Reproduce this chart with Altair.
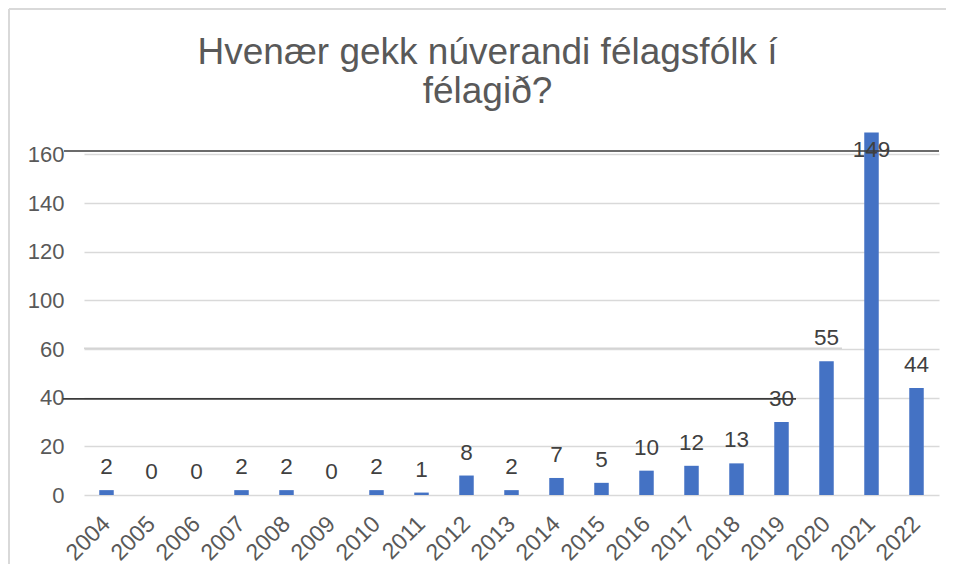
import json
import altair as alt
import pandas as pd

FONT = "Liberation Sans"

# ---- data ----
years = ["2004", "2005", "2006", "2007", "2008", "2009", "2010", "2011", "2012",
         "2013", "2014", "2015", "2016", "2017", "2018", "2019", "2020", "2021", "2022"]
counts = [2, 0, 0, 2, 2, 0, 2, 1, 8, 2, 7, 5, 10, 12, 13, 30, 55, 149, 44]

# y-axis gridline values and the (odd) labels printed next to them
y_ticks = [0, 20, 40, 60, 80, 100, 120, 140]
y_tick_labels = ["0", "20", "40", "60", "100", "120", "140", "160"]

# dark strike lines drawn across the chart (y values in data units)
dark_line_values = [141.4, 39.5]
grey_line_values = [60.3]

df = pd.DataFrame({"year": years, "count": counts})

label_expr = f"{json.dumps(y_tick_labels)}[indexof({json.dumps(y_ticks)}, datum.value)]"

x_enc = alt.X(
    "year:N", sort=None, title=None,
    scale=alt.Scale(paddingInner=0, paddingOuter=0),
    axis=alt.Axis(labelAngle=-45, labelAlign="right", labelBaseline="middle",
                  labelPadding=25, ticks=False, tickSize=0, domain=False,
                  labelFont=FONT, labelFontSize=23, labelColor="#595959",
                  grid=False, maxExtent=60),
)
y_scale = alt.Scale(domain=[0, 150], nice=False, zero=True)
y_enc = alt.Y(
    "count:Q", title=None, scale=y_scale,
    axis=alt.Axis(values=y_ticks, labelExpr=label_expr, ticks=False, tickSize=0,
                  domain=False, labelPadding=20, labelFont=FONT, labelFontSize=22,
                  labelColor="#595959", labelBaseline="middle",
                  minExtent=60, maxExtent=60,
                  grid=True, gridColor="#d9d9d9", gridWidth=1.3),
)

base = alt.Chart(df)

bars = base.mark_bar(size=14.5, color="#4472C4").encode(x=x_enc, y=y_enc)

labels = base.transform_calculate(
    label_y="min(datum.count, 132.4)"
).mark_text(
    dy=-16, baseline="alphabetic", fontSize=22.5, font=FONT, color="#404040"
).encode(
    x=alt.X("year:N", sort=None),
    y=alt.Y("label_y:Q", scale=y_scale),
    text=alt.Text("count:Q"),
)

dark1 = alt.Chart(pd.DataFrame({"v": [dark_line_values[0]]})).mark_rule(
    color="#3a3a3a", strokeWidth=1.6
).encode(y=alt.Y("v:Q", scale=y_scale), x=alt.value(-20), x2=alt.value(855))

dark2 = alt.Chart(pd.DataFrame({"v": [dark_line_values[1]]})).mark_rule(
    color="#3a3a3a", strokeWidth=1.6
).encode(y=alt.Y("v:Q", scale=y_scale), x=alt.value(-21), x2=alt.value(712))

grey = alt.Chart(pd.DataFrame({"v": grey_line_values})).mark_rule(
    color="#d4d4d4", strokeWidth=1.6
).encode(y=alt.Y("v:Q", scale=y_scale), x=alt.value(0), x2=alt.value(758))

# light chart-area frame (left and top edges, as in the reference)
frame_df = pd.DataFrame({"k": [0]})
frame_left = alt.Chart(frame_df).mark_rule(color="#d9d9d9", strokeWidth=2).encode(
    x=alt.value(-75), y=alt.value(-121), y2=alt.value(434))
frame_top = alt.Chart(frame_df).mark_rule(color="#d9d9d9", strokeWidth=2).encode(
    y=alt.value(-121), x=alt.value(-75), x2=alt.value(862))

chart = alt.layer(grey, bars, labels, dark1, dark2, frame_left, frame_top).properties(
    width=855,
    height=365,
    padding={"left": 0, "top": 0, "right": 0, "bottom": 0},
    background="white",
    title=alt.Title(
        ["Hvenær gekk núverandi félagsfólk í", "félagið?"],
        fontSize=37, font=FONT, fontWeight="normal", color="#595959",
        lineHeight=39, offset=-103, dx=-24, anchor="middle",
    ),
).configure_view(stroke=None)

chart.save("out.html", embed_options={"renderer": "svg", "actions": False})
